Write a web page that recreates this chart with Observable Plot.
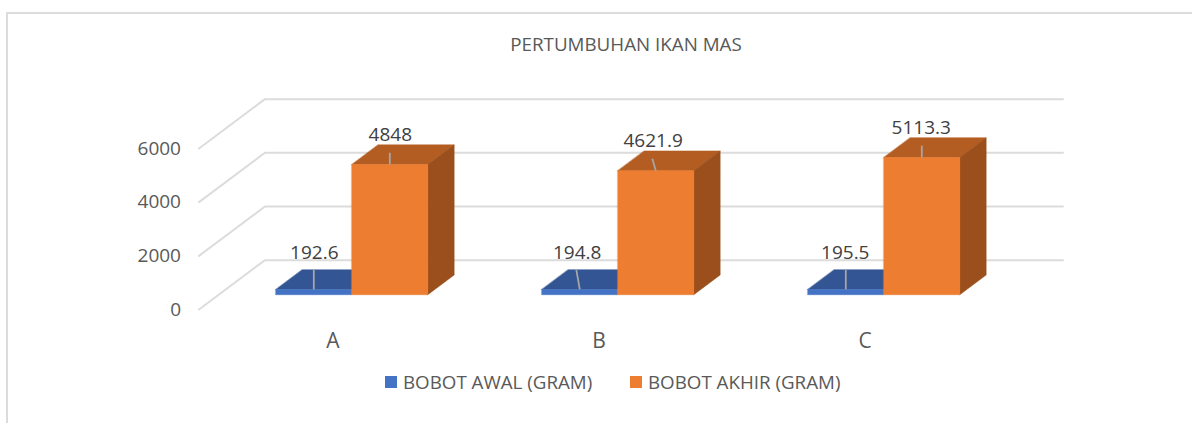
<!DOCTYPE html>
<html><head><meta charset="utf-8">
<script src="https://cdn.jsdelivr.net/npm/d3@7"></script>
<script src="https://cdn.jsdelivr.net/npm/@observablehq/plot@0.6"></script>
<style>
html,body{margin:0;padding:0;background:#fff;overflow:hidden}
#frame{position:absolute;left:6px;top:12px;width:1186px;height:411px;border-left:2px solid #dcdcdc;border-top:2px solid #dcdcdc;box-sizing:border-box}
#wrap{position:absolute;left:0;top:0;width:1192px;height:423px;font-family:"Open Sans",sans-serif}
#title{position:absolute;left:0;top:33px;width:1252px;text-align:center;font-size:18.8px;line-height:22px;color:#595959}
#chart{position:absolute;left:0;top:70px}
#chart svg{display:block;overflow:visible}
#legend{position:absolute;left:0;top:370px;height:24px;width:1192px;font-size:18.75px;line-height:24px;color:#595959}
.k{position:absolute;top:6px;width:12px;height:12px}
.t{position:absolute;top:0;white-space:nowrap}
</style></head><body>
<div id="wrap">
<div id="frame"></div>
<div id="title"></div>
<div id="chart"></div>
<div id="legend"></div>
</div>
<script>
const title = "PERTUMBUHAN IKAN MAS";
const categories = ["A", "B", "C"];
const seriesNames = ["BOBOT AWAL (GRAM)", "BOBOT AKHIR (GRAM)"];
const bobotAwal = [192.6, 194.8, 195.5];
const bobotAkhir = [4848, 4621.9, 5113.3];
const yTicks = [0, 2000, 4000, 6000];
const palette = {
  awal: {front: "#4472c4", top: "#335593"},
  akhir: {front: "#ed7d31", top: "#b45d22", side: "#9a4f1c"}
};

// Oblique projection expressed in data units: depth 1 = full floor depth.
const depthX = 0.248, depthY = 1840;
const barWidth = 1 / 3.5, depthFront = 0.3, depthBack = 0.7;
const project = (x, v, d) => ({x: x + d * depthX, y: v + d * depthY});
const poly = (pts) => pts.map(([x, v, d]) => project(x, v, d));
const face = (pts, fill) => Plot.line(poly(pts), {x: "x", y: "y", fill, stroke: fill, strokeWidth: 0.5, curve: "linear-closed"});

const marks = [];
// Wall and back gridlines
for (const t of yTicks) {
  const g = poly([[0, t, 0], [0, t, 1], [3, t, 1]]);
  marks.push(Plot.line(g, {x: "x", y: "y", stroke: "#dcdcdc", strokeWidth: 2}));
}
const awalTops = [], akhirTops = [];
categories.forEach((c, i) => {
  const mid = i + 0.5, x0 = mid - barWidth, x1 = mid, x2 = mid + barWidth;
  const a = bobotAwal[i], b = bobotAkhir[i];
  // first series
  marks.push(face([[x0, a, depthFront], [x1, a, depthFront], [x1, a, depthBack], [x0, a, depthBack]], palette.awal.top));
  marks.push(face([[x0, 0, depthFront], [x1, 0, depthFront], [x1, a, depthFront], [x0, a, depthFront]], palette.awal.front));
  // second series
  marks.push(face([[x1, b, depthFront], [x2, b, depthFront], [x2, b, depthBack], [x1, b, depthBack]], palette.akhir.top));
  marks.push(face([[x2, 0, depthFront], [x2, 0, depthBack], [x2, b, depthBack], [x2, b, depthFront]], palette.akhir.side));
  marks.push(face([[x1, 0, depthFront], [x2, 0, depthFront], [x2, b, depthFront], [x1, b, depthFront]], palette.akhir.front));
  awalTops.push({...project(mid - barWidth / 2, a, depthFront), v: a});
  akhirTops.push({...project(mid + barWidth / 2, b, depthFront), v: b});
});
// Leader lines and nudges of the data labels (Excel moved them by hand)
const awalLift = 730, akhirLift = 440;
const leaderLean = [0, -0.013, 0];
const labelNudge = [0.002, -0.01, -0.002];
const leaders = (tops, lift) => tops.map((l, i) => ({x1: l.x, y1: l.y, x2: l.x + leaderLean[i], y2: l.y + lift}));
const leaderOpts = {x1: "x1", y1: "y1", x2: "x2", y2: "y2", stroke: "#a6a6a6", strokeWidth: 1.8};
marks.push(Plot.link(leaders(awalTops, awalLift), leaderOpts));
marks.push(Plot.link(leaders(akhirTops, akhirLift), leaderOpts));
const textOpts = {x: (d, i) => d.x + labelNudge[i], y: "y", text: d => String(d.v), fill: "#404040", fontSize: 19};
marks.push(Plot.text(awalTops, {...textOpts, dy: -37}));
marks.push(Plot.text(akhirTops, {...textOpts, dy: -30}));

marks.push(Plot.axisY({ticks: yTicks, tickFormat: "d", tickSize: 0, tickPadding: 18, label: null, fontSize: 19, color: "#595959", anchor: "left"}));
marks.push(Plot.axisX({ticks: categories.map((_, i) => i + 0.5), tickFormat: d => categories[Math.floor(d)], tickSize: 0, tickPadding: 24, label: null, fontSize: 21, color: "#595959", anchor: "bottom", dx: 1}));

const plot = Plot.plot({
  width: 1192, height: 290,
  marginLeft: 198.5, marginRight: 195.5, marginTop: 78, marginBottom: 51,
  style: {background: "transparent", fontFamily: "'Open Sans',sans-serif", overflow: "visible"},
  x: {domain: [0, 3]},
  y: {domain: [0, 6000]},
  marks
});
document.getElementById("chart").append(plot);

const legend = document.getElementById("legend");
const pos = [[385, 403, palette.awal.front], [630, 648, palette.akhir.front]];
seriesNames.forEach((s, i) => {
  const k = document.createElement("div"); k.className = "k"; k.style.left = pos[i][0] + "px"; k.style.background = pos[i][2];
  const t = document.createElement("div"); t.className = "t"; t.style.left = pos[i][1] + "px"; t.textContent = s;
  legend.append(k, t);
});
document.getElementById("title").textContent = title;
</script>
</body></html>
